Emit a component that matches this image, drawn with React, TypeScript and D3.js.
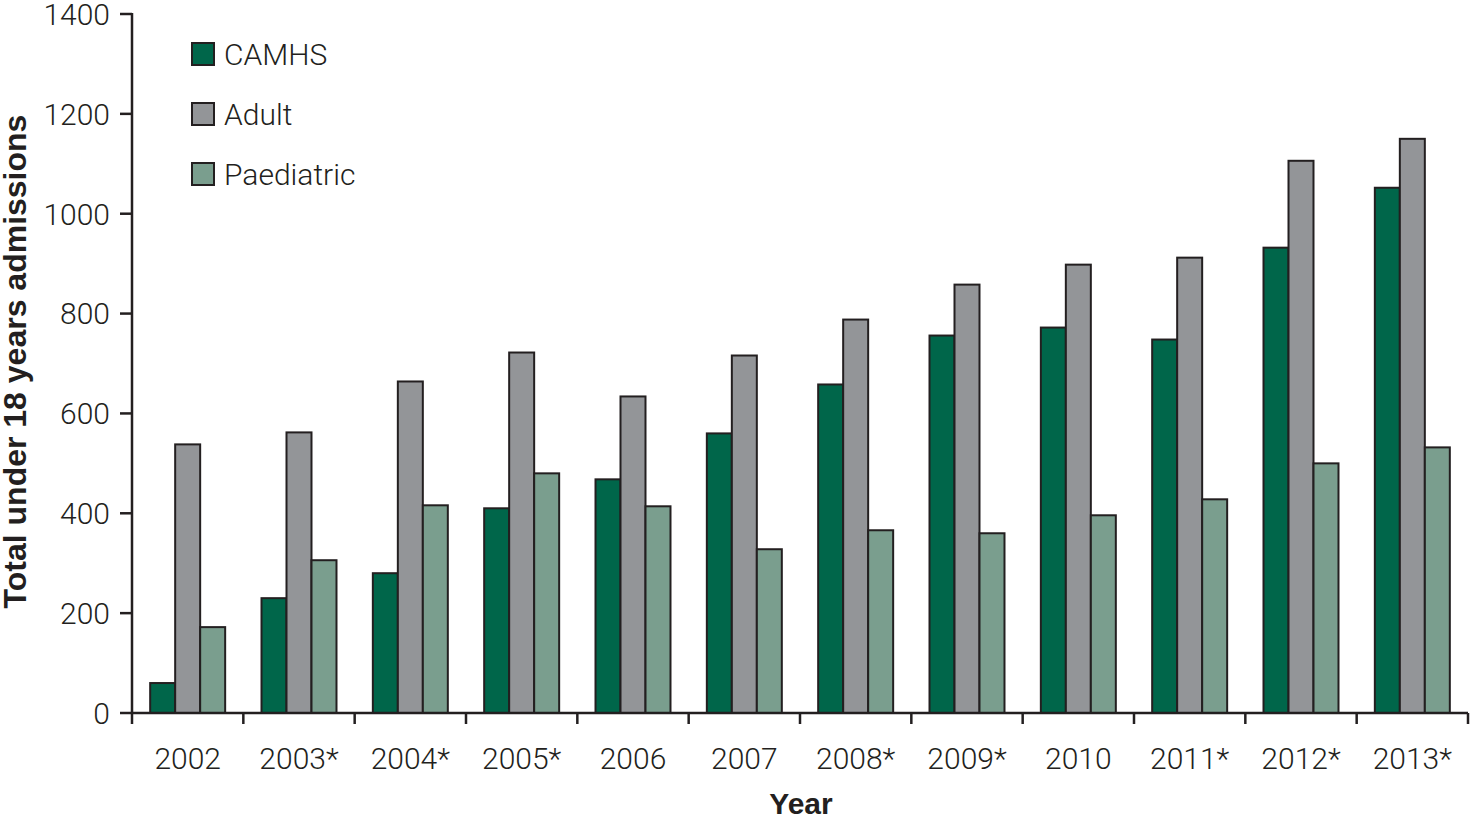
import React from "react";
import * as d3 from "d3";

const years = ["2002", "2003*", "2004*", "2005*", "2006", "2007", "2008*", "2009*", "2010", "2011*", "2012*", "2013*"];
const seriesNames = ["CAMHS", "Adult", "Paediatric"];
const camhs = [60, 230, 280, 410, 468, 560, 658, 756, 772, 748, 932, 1052];
const adult = [538, 562, 664, 722, 634, 716, 788, 858, 898, 912, 1106, 1150];
const paediatric = [172, 306, 416, 480, 414, 328, 366, 360, 396, 428, 500, 532];
const yTicks = [0, 200, 400, 600, 800, 1000, 1200, 1400];
const colors = ["#00664a", "#939598", "#7a9e8e"];

const W = 1472, H = 817;
const left = 132, right = 1468, top = 14, bottom = 713;

export default function App() {
  const x0 = d3.scaleBand<string>().domain(years).range([left, right]).padding(0);
  const x1 = d3.scaleBand<string>().domain(seriesNames).range([0, x0.bandwidth()]).paddingInner(0).paddingOuter(0.727);
  const y = d3.scaleLinear().domain([0, 1400]).range([bottom, top]);
  const data = [camhs, adult, paediatric];
  const tickFont = "Roboto, 'Open Sans', sans-serif";
  const stroke = "#231f20";
  const boundaries = [...years.map((d) => x0(d)!), right];

  return (
    <svg width={W} height={H} style={{ position: "absolute", left: 0, top: 0, background: "#fff" }}>
      {/* bars */}
      {years.map((yr, i) => (
        <g key={yr} transform={`translate(${x0(yr)},0)`}>
          {seriesNames.map((s, j) => (
            <rect
              key={s}
              x={x1(s)}
              y={y(data[j][i])}
              width={x1.bandwidth()}
              height={bottom - y(data[j][i])}
              fill={colors[j]}
              stroke={stroke}
              strokeWidth={2}
            />
          ))}
        </g>
      ))}
      {/* y axis */}
      <line x1={left} x2={left} y1={top - 1} y2={bottom} stroke={stroke} strokeWidth={2.5} />
      {yTicks.map((t) => (
        <g key={t}>
          <line x1={left - 12} x2={left} y1={y(t)} y2={y(t)} stroke={stroke} strokeWidth={2.5} />
          <text x={left - 22} y={y(t)} dy="0.36em" textAnchor="end" fontFamily={tickFont} fontWeight={300} fontSize={30} fill="#231f20">
            {t}
          </text>
        </g>
      ))}
      {/* x axis */}
      <line x1={left} x2={right} y1={bottom} y2={bottom} stroke={stroke} strokeWidth={2.5} />
      {boundaries.map((b, i) => (
        <line key={i} x1={b} x2={b} y1={bottom} y2={bottom + 11} stroke={stroke} strokeWidth={2.5} />
      ))}
      {years.map((yr) => (
        <text key={yr} x={x0(yr)! + x0.bandwidth() / 2} y={769} textAnchor="middle" fontFamily={tickFont} fontWeight={300} fontSize={30} fill="#231f20">
          {yr}
        </text>
      ))}
      {/* axis titles */}
      <text x={801} y={814} textAnchor="middle" fontFamily="'Liberation Sans', Arial, sans-serif" fontWeight={700} fontSize={30} fill="#231f20">
        Year
      </text>
      <text
        transform={`translate(26,${(113 + 610) / 2}) rotate(-90)`}
        textAnchor="middle"
        fontFamily="'Liberation Sans', Arial, sans-serif"
        fontWeight={700}
        fontSize={32}
        fill="#231f20"
      >
        Total under 18 years admissions
      </text>
      {/* legend */}
      {seriesNames.map((s, j) => (
        <g key={s} transform={`translate(192,${43 + j * 60})`}>
          <rect x={0} y={0} width={22} height={22} fill={colors[j]} stroke={stroke} strokeWidth={2} />
          <text x={32} y={11} dy="0.36em" fontFamily={tickFont} fontWeight={300} fontSize={30} fill="#231f20">
            {s}
          </text>
        </g>
      ))}
    </svg>
  );
}
